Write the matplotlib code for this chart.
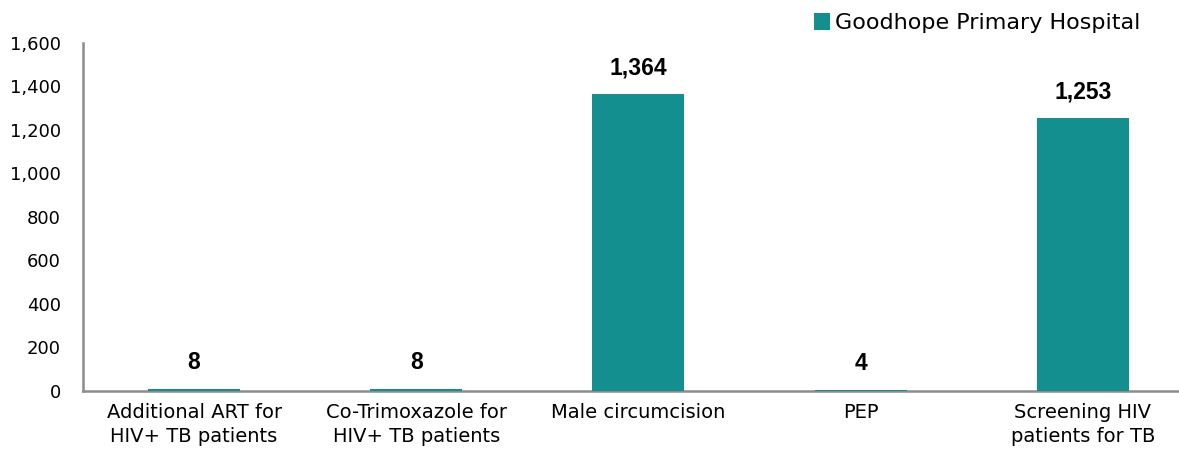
import matplotlib.pyplot as plt
from matplotlib.ticker import FuncFormatter

# Data
categories = ['Additional ART for\nHIV+ TB patients', 'Co-Trimoxazole for\nHIV+ TB patients',
              'Male circumcision', 'PEP', 'Screening HIV\npatients for TB']
values = [8, 8, 1364, 4, 1253]
series_name = 'Goodhope Primary Hospital'
y_ticks = [0, 200, 400, 600, 800, 1000, 1200, 1400, 1600]

teal = '#148F8F'
grey = '#8C8C8C'

fig = plt.figure(figsize=(11.79, 4.54), dpi=100)
ax = fig.add_axes([0.0704, 0.1388, 0.9423, 0.7665])

x = range(len(categories))
bars = ax.bar(x, values, width=0.414, color=teal, label=series_name, zorder=3)

# value labels
for xi, v in zip(x, values):
    ax.annotate(f'{v:,}', (xi, v), xytext=(0, 11), textcoords='offset points',
                ha='center', va='bottom', fontsize=16.5, fontweight='bold',
                family='Liberation Sans')

ax.set_xlim(-0.5, len(categories) - 0.5)
ax.set_ylim(0, 1600)
ax.set_yticks(y_ticks)
ax.yaxis.set_major_formatter(FuncFormatter(lambda v, p: f'{int(v):,}'))
ax.set_xticks(list(x))
ax.set_xticklabels(categories, fontsize=14, linespacing=1.3)
ax.tick_params(axis='y', labelsize=13, length=0, pad=16)
ax.tick_params(axis='x', length=0, pad=9)

for s in ['top', 'right']:
    ax.spines[s].set_visible(False)
for s in ['left', 'bottom']:
    ax.spines[s].set_color(grey)
    ax.spines[s].set_linewidth(1.8)
    ax.spines[s].set_zorder(2)

fig.legend(loc='upper right', bbox_to_anchor=(0.984, 1.015), frameon=False, fontsize=16,
           handlelength=0.75, handleheight=0.75, handletextpad=0.2)

fig.savefig('out.png', dpi=100)
